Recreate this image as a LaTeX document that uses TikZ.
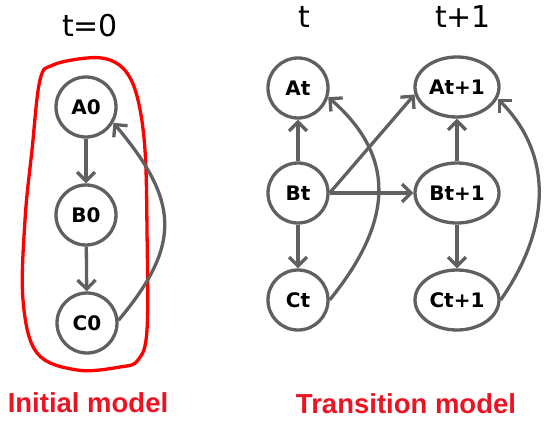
\documentclass[tikz,border=0pt]{standalone}
\usepackage{fontspec}
\setmainfont{DejaVu Sans}
\newfontfamily\capfont{Liberation Sans}
\usetikzlibrary{arrows.meta,shapes.geometric}
\definecolor{netgray}{RGB}{96,96,96}
\definecolor{modelred}{RGB}{235,20,35}
\tikzset{
  var/.style={circle,draw=netgray,line width=3.3pt,minimum size=60pt,inner sep=0pt,
    font=\fontsize{20}{20}\selectfont\bfseries},
  varnext/.style={var,ellipse,minimum width=84pt,minimum height=60pt},
  dep/.style={draw=netgray,line width=3.3pt,-{Straight Barb[length=9pt,width=18pt]}},
  steplabel/.style={anchor=base,font=\fontsize{30}{30}\selectfont},
  caption/.style={anchor=base,text=modelred,font=\capfont\fontsize{27.5}{27.5}\selectfont\bfseries}
}
\begin{document}
\begin{tikzpicture}[x=1pt,y=1pt]
\useasboundingbox (0,0) rectangle (544,424);

% the red outline round the initial model
\draw[red,line width=3.3pt] plot[smooth cycle,tension=0.6] coordinates {
  (40,344) (53,359) (87,366) (110,364) (127,351) (138,324) (145,274)
  (147,194) (147,94) (138,64) (120,57) (77,54) (37,71) (23,124)
  (25,204) (32,274)};

% the nodes of the initial model
\node[var] (A0) at (86,317) {A0};
\node[var] (B0) at (86,209) {B0};
\node[var] (C0) at (87,101) {C0};

% the nodes of the transition model
\node[var] (At) at (298,336) {At};
\node[var] (Bt) at (298,231) {Bt};
\node[var] (Ct) at (298,124) {Ct};
\node[varnext] (At1) at (457,337) {At+1};
\node[varnext] (Bt1) at (457,231) {Bt+1};
\node[varnext] (Ct1) at (457,124) {Ct+1};

% the arrows
\draw[dep] (A0) -- (B0);
\draw[dep] (B0) -- (C0);
\draw[dep] (C0.5) to[out=50,in=-50,looseness=1.3] (A0.-30);

\draw[dep] (Bt) -- (At);
\draw[dep] (Bt) -- (Ct);
\draw[dep] (Bt.east) -- (At1.190);
\draw[dep] (Bt.east) -- (Bt1.west);
\draw[dep] (Ct.east) to[out=51,in=-41,looseness=1.2] (At.-17);
\draw[dep] (Bt1) -- (At1);
\draw[dep] (Bt1) -- (Ct1);
\draw[dep] (Ct1.east) to[out=55,in=-45,looseness=1.05] (At1.-16);

% labels for the time slices
\node[steplabel] (l0) at (90,387) {t=0};
\node[steplabel] (lt) at (304,396) {t};
\node[steplabel] (lt1) at (463,396) {t+1};

% labels for the models
\node[caption] (init) at (88,12) {Initial model};
\node[caption] (trans) at (406,11) {Transition model};
\end{tikzpicture}
\end{document}
